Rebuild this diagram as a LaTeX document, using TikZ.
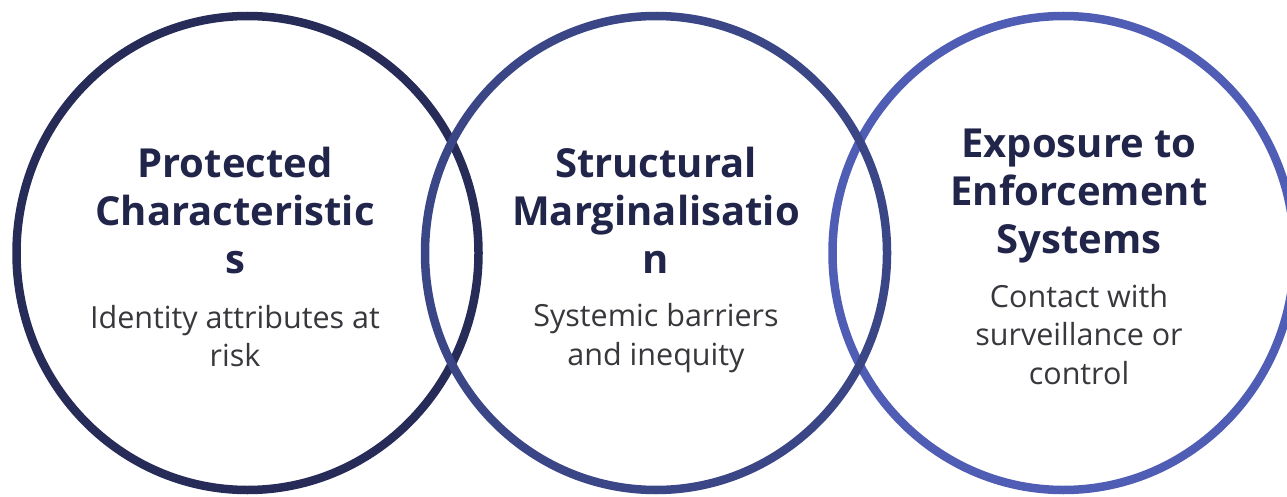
\documentclass[tikz,border=0pt]{standalone}
\usepackage{fontspec}
\setmainfont{Open Sans}
\usetikzlibrary{shapes.geometric}
\definecolor{ringA}{RGB}{38,43,88}
\definecolor{ringB}{RGB}{58,70,133}
\definecolor{ringC}{RGB}{80,93,180}
\definecolor{titlecol}{RGB}{33,37,74}
\definecolor{bodycol}{RGB}{55,55,60}
\tikzset{
  ring/.style={ellipse, draw=#1, line width=8.5pt, inner sep=0pt,
    minimum width=462pt, minimum height=474pt},
  titletext/.style={anchor=base, align=center, inner sep=0pt, text=titlecol,
    font=\fontsize{40}{48}\selectfont\bfseries},
  bodytext/.style={anchor=base, align=center, inner sep=0pt, text=bodycol,
    font=\fontsize{30.5}{38.5}\selectfont}
}
\begin{document}
\begin{tikzpicture}[x=1pt,y=-1pt]
\useasboundingbox (0,0) rectangle (1287,497);
\node[ring=ringA] (r1) at (247.5,253) {};
\node[ring=ringC] (r3) at (1063.5,253) {};
\node[ring=ringB] (r2) at (656,253) {};

% base anchor = baseline of the last line
\node[titletext] (t1) at (235,273) {Protected\\Characteristic\\s};
\node[bodytext] (b1) at (235,366.5) {Identity attributes at\\risk};

\node[titletext] (t2) at (656,273) {Structural\\Marginalisatio\\n};
\node[bodytext] (b2) at (656,365) {Systemic barriers\\and inequity};

\node[titletext] (t3) at (1079,253) {Exposure to\\Enforcement\\Systems};
\node[bodytext] (b3) at (1079,384) {Contact with\\surveillance or\\control};
\end{tikzpicture}
\end{document}
